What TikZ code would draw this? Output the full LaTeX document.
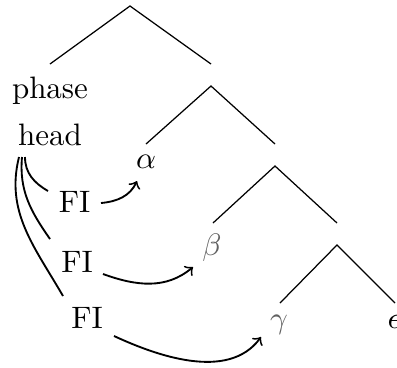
\documentclass[tikz,border=0pt]{standalone}
\begin{document}
\begin{tikzpicture}[x=0.32258pt,y=-0.32258pt,
  edge/.style={line width=0.4pt},
  link/.style={semithick},
  arr/.style={semithick,->},
  lbl/.style={anchor=base,inner sep=0pt},
  dim/.style={text=black!62}]
\useasboundingbox (0,0) rectangle (397,367);
% tree points
\coordinate (r) at (130,6);
\coordinate (rl) at (50,64);
\coordinate (rr) at (211,64);
\coordinate (a) at (211,86);
\coordinate (al) at (146,144);
\coordinate (ar) at (275,144);
\coordinate (b) at (275,166);
\coordinate (bl) at (213,223);
\coordinate (br) at (337,223);
\coordinate (c) at (337,245);
\coordinate (cl) at (280,303);
\coordinate (cr) at (395,303);
\draw[edge] (rl) -- (r) -- (rr);
\draw[edge] (al) -- (a) -- (ar);
\draw[edge] (bl) -- (b) -- (br);
\draw[edge] (cl) -- (c) -- (cr);
% labels
\node[lbl] (phase) at (50,98) {phase};
\node[lbl] (head) at (50,145) {head};
\node[lbl] (alpha) at (146,168) {$\alpha$};
\node[lbl,dim] (beta) at (212,255) {$\beta$};
\node[lbl,dim] (gamma) at (279,328) {$\gamma$};
\node[lbl] (eps) at (394,328) {$\epsilon$};
\node[lbl] (fi1) at (74.5,212) {FI};
\node[lbl] (fi2) at (77,272) {FI};
\node[lbl] (fi3) at (87,328) {FI};
% link points
\coordinate (h1) at (25,157);
\coordinate (h2) at (22,157);
\coordinate (h3) at (19,157);
\coordinate (f1w) at (48,191);
\coordinate (f2w) at (50,239);
\coordinate (f3w) at (63,296);
\coordinate (f1e) at (101,203);
\coordinate (f2e) at (103,274);
\coordinate (f3e) at (114,336);
\coordinate (t1) at (137,181);
\coordinate (t2) at (193,267);
\coordinate (t3) at (261,337);
\draw[link] (h1) to[out=-90,in=150] (f1w);
\draw[link] (h2) to[out=-95,in=125] (f2w);
\draw[link] (h3) to[out=-104,in=120] (f3w);
\draw[arr] (f1e) to[out=5,in=-115] (t1);
\draw[arr] (f2e) to[out=-20,in=-140] (t2);
\draw[arr] (f3e) .. controls (155,355) and (228,382) .. (t3);
\end{tikzpicture}
\end{document}
